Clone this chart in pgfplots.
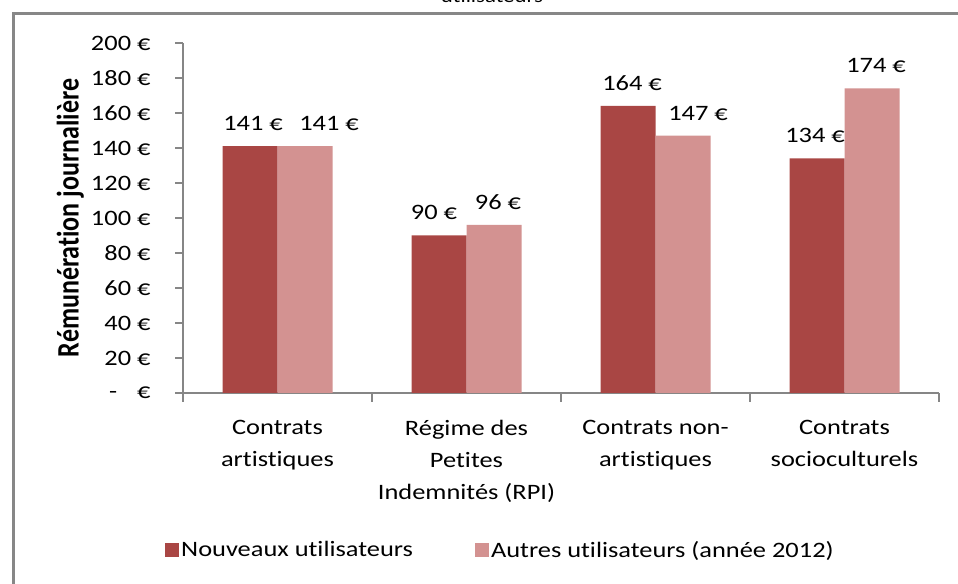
\documentclass[border=0pt]{standalone}
\usepackage{pgfplots}
\pgfplotsset{compat=1.18}
\usepackage{pgfplotstable}
\usepackage{fontspec}
\setmainfont{Carlito}[FakeStretch=1.2, Ligatures={NoCommon}]
\newfontfamily\ylabfont{Carlito}[Ligatures={NoCommon}]
\definecolor{darkred}{HTML}{A94644}
\definecolor{pinkred}{HTML}{D39291}
\definecolor{axgray}{HTML}{868686}
\definecolor{framegray}{HTML}{878787}

\pgfplotstableread{
x y dx
0 141 3
1 90 -5
2 164 4
3 134 -2
}\nouveaux
\pgfplotstableread{
x y dx
0 141 24
1 96 4
2 147 15
3 174 4
}\autres

\begin{document}
\begin{tikzpicture}[x=1bp,y=1bp]
\useasboundingbox (0,0) rectangle (958,584);
\draw[line width=3bp, framegray] (13.5,-20) -- (13.5,570.5) -- (990,570.5);
\node[anchor=base, font=\fontsize{19bp}{19bp}\selectfont] at (492,581) {utilisateurs};
\begin{axis}[
  at={(183bp,191bp)}, anchor=south west,
  scale only axis, width=756bp, height=350bp,
  ybar=0pt, bar width=55bp,
  xmin=-0.5, xmax=3.5, ymin=0, ymax=200,
  axis lines*=left,
  axis line style={axgray, line width=1.2bp},
  every tick/.style={axgray, line width=1.2bp},
  tick align=outside,
  major tick length=8bp, minor tick length=9bp,
  xtick={0,1,2,3},
  minor xtick={-0.5,0.5,1.5,2.5,3.5},
  major x tick style={draw=none},
  xticklabels={{Contrats\\artistiques},{Régime des\\Petites\\Indemnités (RPI)},{Contrats non-\\artistiques},{Contrats\\socioculturels}},
  xticklabel style={align=center, anchor=north, font=\fontsize{22bp}{32bp}\selectfont, yshift=-16bp},
  ytick={0,20,...,200},
  yticklabels={{-\hspace{20bp}€},20 €,40 €,60 €,80 €,100 €,120 €,140 €,160 €,180 €,200 €},
  yticklabel style={font=\fontsize{22bp}{26bp}\selectfont, anchor=east, xshift=-21bp},
  ylabel={\ylabfont\bfseries Rémunération journalière},
  ylabel style={at={(axis description cs:-0.149,0.5)}, anchor=center, rotate=0, yscale=1.2, font=\fontsize{26bp}{30bp}\selectfont},
  nodes near coords={\pgfmathprintnumber[assume math mode=true]{\pgfplotspointmeta} €},
  visualization depends on={\thisrow{dx} \as \dx},
  every node near coord/.append style={font=\fontsize{22bp}{26bp}\selectfont, black, anchor=south, yshift=12bp, xshift=\dx bp},
  legend columns=2,
  legend style={at={(axis description cs:-0.0238,-0.4486)}, anchor=west, draw=none, fill=none, inner sep=0pt,
    font=\fontsize{22bp}{26bp}\selectfont, nodes={inner sep=2bp},
    /tikz/every even column/.append style={column sep=60bp}},
  legend cell align=left,
  clip=false,
]
\addplot[fill=darkred, draw=none, legend image code/.code={\fill[darkred] (-3bp,-7bp) rectangle (11bp,7bp);}] table[x=x,y=y] {\nouveaux};
\addlegendentry{Nouveaux utilisateurs}
\addplot[fill=pinkred, draw=none, legend image code/.code={\fill[pinkred] (-3bp,-7bp) rectangle (11bp,7bp);}] table[x=x,y=y] {\autres};
\addlegendentry{Autres utilisateurs (année 2012)}
\end{axis}
\end{tikzpicture}
\end{document}
